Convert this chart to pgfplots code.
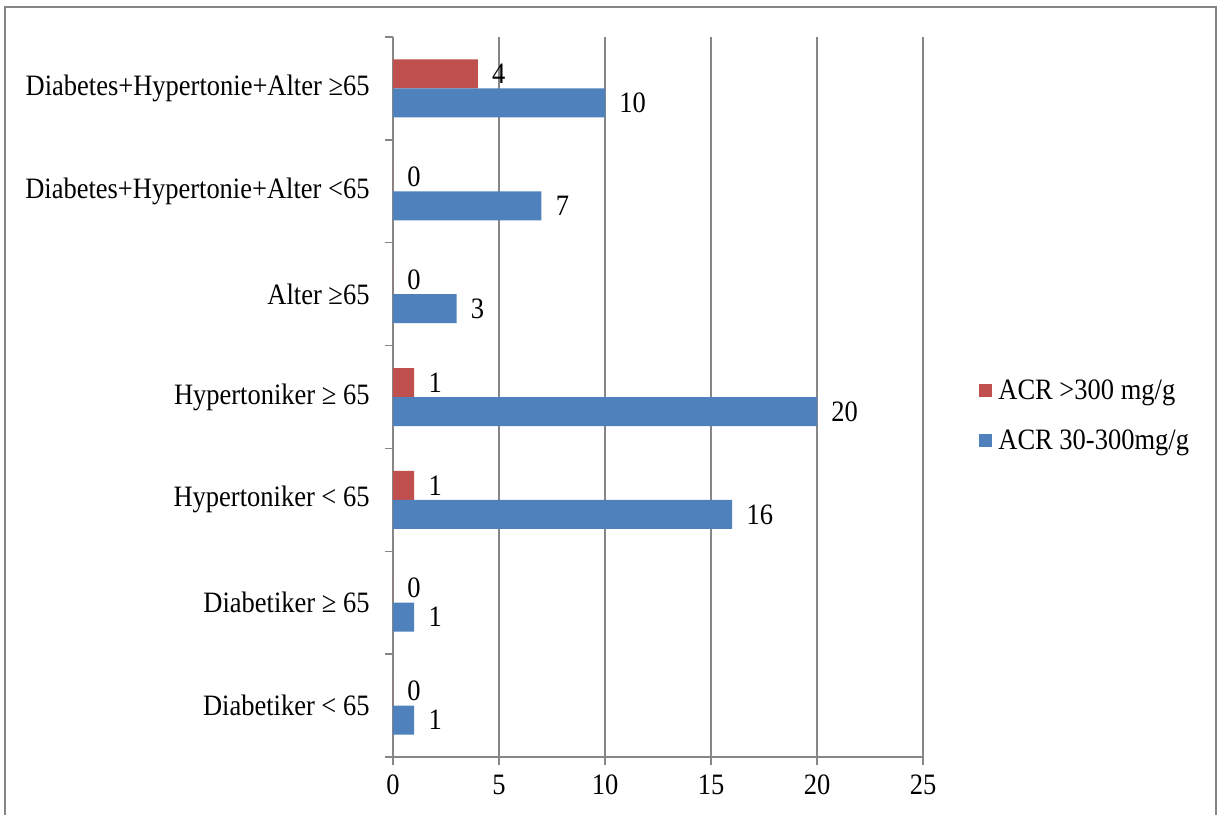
\documentclass[border=0pt]{standalone}
\usepackage{pgfplots}
\pgfplotsset{compat=1.18}
\usepackage{fontspec}
\setmainfont{Liberation Serif}[FakeStretch=0.895]
\definecolor{acrred}{HTML}{C0504D}
\definecolor{acrblue}{HTML}{4F81BD}
\definecolor{axgray}{HTML}{868686}

\begin{document}
\fontsize{14.8}{17.8}\selectfont
\begin{tikzpicture}
% page area and the open chart frame around it
\useasboundingbox (-196.5pt,-28.5pt) rectangle (413pt,378.5pt);
\draw[axgray, line width=1pt] (-193.75pt,-40pt) -- (-193.75pt,374.75pt)
  -- (411.25pt,374.75pt) -- (411.25pt,-40pt);
\begin{axis}[
  at={(0,0)}, anchor=south west,
  scale only axis, width=265pt, height=360pt,
  xbar, bar width=14.5pt,
  xmin=0, xmax=25, ymin=-0.5, ymax=6.5,
  xtick={0,5,...,25},
  ytick={-0.5,0.5,...,6.5},
  y tick label as interval,
  yticklabels={Diabetiker < 65, Diabetiker ≥ 65, Hypertoniker < 65,
    Hypertoniker ≥ 65, Alter ≥65, Diabetes+Hypertonie+Alter <65,
    Diabetes+Hypertonie+Alter ≥65},
  axis x line*=bottom, axis y line*=left,
  axis line style={axgray, line width=0.75pt, -},
  tick align=outside, major tick length=4pt,
  tick style={axgray, line width=0.75pt},
  xmajorgrids, grid style={axgray, line width=0.75pt},
  /pgf/number format/assume math mode=true,
  tick label style={font=\fontsize{14.8}{17.8}\selectfont},
  xticklabel style={yshift=0pt},
  yticklabel style={xshift=-2.6pt},
  nodes near coords,
  nodes near coords style={anchor=west, inner sep=0pt, xshift=7pt,
    font=\fontsize{14.8}{17.8}\selectfont, text=black},
  legend style={at={(rel axis cs:1.1057,0.472)}, anchor=west,
    draw=none, fill=none, inner sep=0pt, row sep=12pt,
    font=\fontsize{14.8}{17.8}\selectfont,
    nodes={inner sep=0pt, text height=10pt, text depth=3pt},
    /tikz/every odd column/.append style={column sep=3pt}},
  legend cell align=left,
  legend image code/.code={\fill[#1] (0pt,-2.5pt) rectangle (6.5pt,4pt);},
]
\addplot[fill=acrred, draw=none, bar shift=7.25pt]
  coordinates {(0,0) (0,1) (1,2) (1,3) (0,4) (0,5) (4,6)};
\addplot[fill=acrblue, draw=none, bar shift=-7.25pt]
  coordinates {(1,0) (1,1) (16,2) (20,3) (3,4) (7,5) (10,6)};
\legend{ACR >300 mg/g, ACR 30-300mg/g}
\end{axis}
\end{tikzpicture}
\end{document}
